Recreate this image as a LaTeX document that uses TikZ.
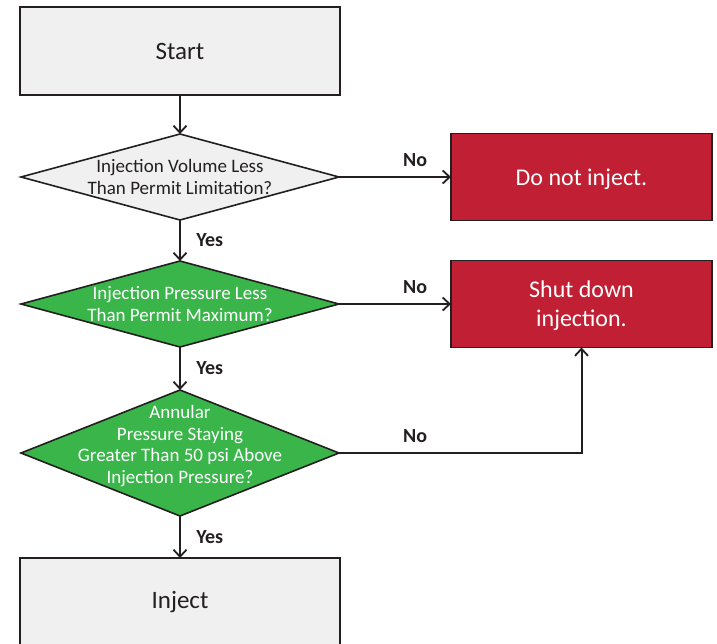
\documentclass[tikz,border=0pt]{standalone}
\usepackage{fontspec}
\setmainfont{Carlito}
\usepackage{xcolor}
\usetikzlibrary{arrows.meta, positioning, quotes, shapes.geometric}

\definecolor{boxgray}{HTML}{F0F0F0}
\definecolor{stopred}{HTML}{C11F33}
\definecolor{okgreen}{HTML}{3AB54A}
\definecolor{outline}{HTML}{231F20}

\begin{document}
\begin{tikzpicture}[
    node distance = 40pt and 112pt,
    terminal/.style = {rectangle, draw=outline, line width=1.6pt, fill=boxgray,
                       outer sep=0pt, minimum width=320pt, minimum height=88pt,
                       text=outline, font=\fontsize{25}{30}\selectfont},
    decision/.style = {diamond, draw=outline, line width=1.6pt, inner sep=0pt,
                       outer sep=0pt, minimum width=318pt, minimum height=86pt},
    qtext/.style = {align=center, font=\fontsize{19}{21.5}\selectfont},
    action/.style = {rectangle, draw=outline, line width=1.6pt, fill=stopred,
                     outer sep=0pt, minimum width=261pt, minimum height=87pt,
                     text depth=0pt, align=center, text=white,
                     font=\fontsize{24}{29}\selectfont},
    answer/.style = {text=outline, inner xsep=15pt, inner ysep=9pt,
                     font=\bfseries\fontsize{20}{24}\selectfont},
    every edge/.style = {draw=outline, line width=2.6pt,
                         -{Straight Barb[length=7pt, width=13pt, line width=1.8pt]}},
    every edge quotes/.style = {answer},
                    auto=left,
                            ]
    \useasboundingbox (0,0) rectangle (717pt,-643pt);
    \node (start) [terminal] at (180pt,-51pt) {Start};
    \node (d1) [decision, fill=boxgray, below=39pt of start] {};
    \node (d1txt) [qtext, text=outline] at (d1) {Injection Volume Less\\Than Permit Limitation?};
    \node (d2) [decision, fill=okgreen, below=41pt of d1] {};
    \node (d2txt) [qtext, text=white] at (d2) {Injection Pressure Less\\Than Permit Maximum?};
    \node (d3) [decision, fill=okgreen, minimum height=126pt, below=43pt of d2] {};
    \node (d3txt) [qtext, text=white, yshift=7pt] at (d3) {Annular\\Pressure Staying\\Greater Than 50 psi Above\\Injection Pressure?};
    \node (inject) [terminal, below=42pt of d3] {Inject};
    \node (r1) [action, right=of d1] {Do not inject.};
    \node (r2) [action, right=of d2] {Shut down\\injection.};
    \draw   (start) edge             (d1)
    (d1) edge ["Yes"]           (d2)
    (d2) edge ["Yes"]           (d3)
    (d3) edge ["Yes"]           (inject)
    (d1) edge ["No" pos=0.68]   (r1)
    (d2) edge ["No" pos=0.68]   (r2);
    \draw [outline, line width=2pt,
           -{Straight Barb[length=7pt, width=13pt, line width=1.8pt]}]
          (d3) -| node (no3) [answer, pos=0.157, above] {No} (r2);
       \end{tikzpicture}
\end{document}
